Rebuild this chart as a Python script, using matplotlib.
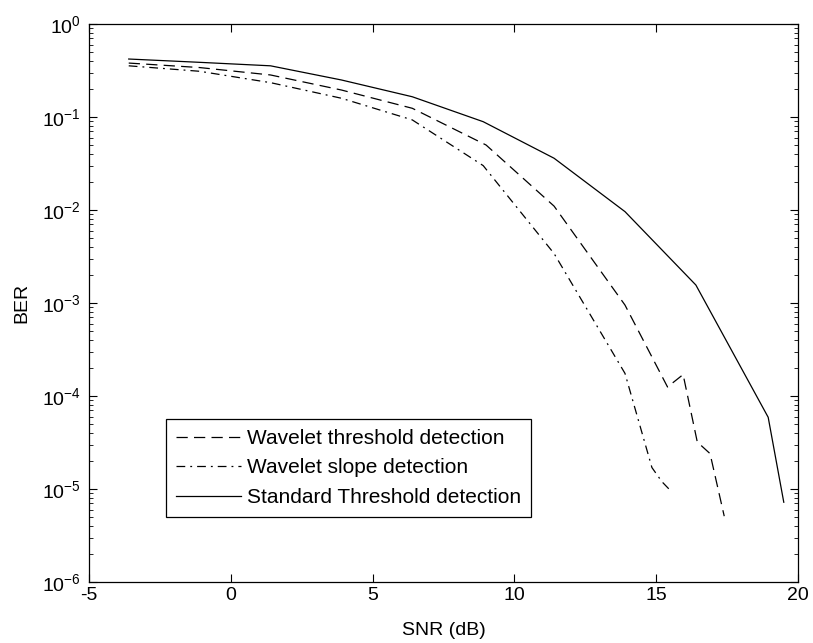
import numpy as np
import matplotlib
matplotlib.use('Agg')
import matplotlib.pyplot as plt
from matplotlib.ticker import LogLocator, NullFormatter

plt.rcParams['font.family'] = ['Liberation Sans', 'DejaVu Sans']
plt.rcParams['axes.unicode_minus'] = False
plt.rcParams['mathtext.default'] = 'regular'

# SNR (dB) / BER
snr_thr = [-3.6, -1.1, 1.4, 3.9, 6.4, 9.0, 11.4, 13.9, 15.4, 15.95, 16.45, 16.9, 17.4]
ber_thr = [0.38, 0.34, 0.283, 0.195, 0.124, 0.050, 0.011, 0.00095, 1.25e-4, 1.7e-4, 3.2e-5, 2.4e-5, 5.1e-6]

snr_slope = [-3.6, -1.1, 1.4, 3.9, 6.4, 8.9, 11.4, 13.9, 14.85, 15.2, 15.45]
ber_slope = [0.355, 0.31, 0.234, 0.159, 0.093, 0.030, 0.0034, 1.75e-4, 1.7e-5, 1.2e-5, 1.0e-5]

snr_std = [-3.6, -1.1, 1.4, 3.9, 6.4, 8.9, 11.4, 13.9, 16.4, 18.95, 19.5]
ber_std = [0.42, 0.387, 0.355, 0.25, 0.165, 0.089, 0.036, 0.0096, 0.00156, 5.9e-5, 7.2e-6]

labels = ['Wavelet threshold detection', 'Wavelet slope detection',
          'Standard Threshold detection']

fig = plt.figure(figsize=(8.13, 6.43), dpi=100)
ax = fig.add_axes([0.1095, 0.0949, 0.8720, 0.8678])

ax.semilogy(snr_thr, ber_thr, color='k', lw=0.9, linestyle=(0, (9, 5)), label=labels[0])
ax.semilogy(snr_slope, ber_slope, color='k', lw=0.9, linestyle=(0, (7, 4, 1.5, 4)), label=labels[1])
ax.semilogy(snr_std, ber_std, color='k', lw=0.9, linestyle='-', label=labels[2])

ax.set_xlim(-5, 20)
ax.set_ylim(1e-6, 1)
ax.set_xticks([-5, 0, 5, 10, 15, 20])
ax.yaxis.set_major_locator(LogLocator(base=10, numticks=10))
ax.yaxis.set_minor_locator(LogLocator(base=10, subs=np.arange(2, 10), numticks=20))
ax.yaxis.set_minor_formatter(NullFormatter())

ax.tick_params(which='both', direction='in', top=True, right=True, labelsize=14)
ax.tick_params(axis='y', which='major', pad=6)
ax.tick_params(which='major', length=6, width=0.8)
ax.tick_params(which='minor', length=3, width=0.6)
for s in ax.spines.values():
    s.set_linewidth(0.9)

ax.set_xlabel('SNR (dB)', fontsize=14, labelpad=13)
ax.set_ylabel('BER', fontsize=14, labelpad=8)

leg = ax.legend(loc='lower left', bbox_to_anchor=(0.108, 0.116), borderaxespad=0,
                fontsize=15, handlelength=3.1, handletextpad=0.3, borderpad=0.5,
                labelspacing=0.5, fancybox=False, framealpha=1, edgecolor='k')
leg.get_frame().set_linewidth(0.9)

fig.savefig('out.png', dpi=100)
